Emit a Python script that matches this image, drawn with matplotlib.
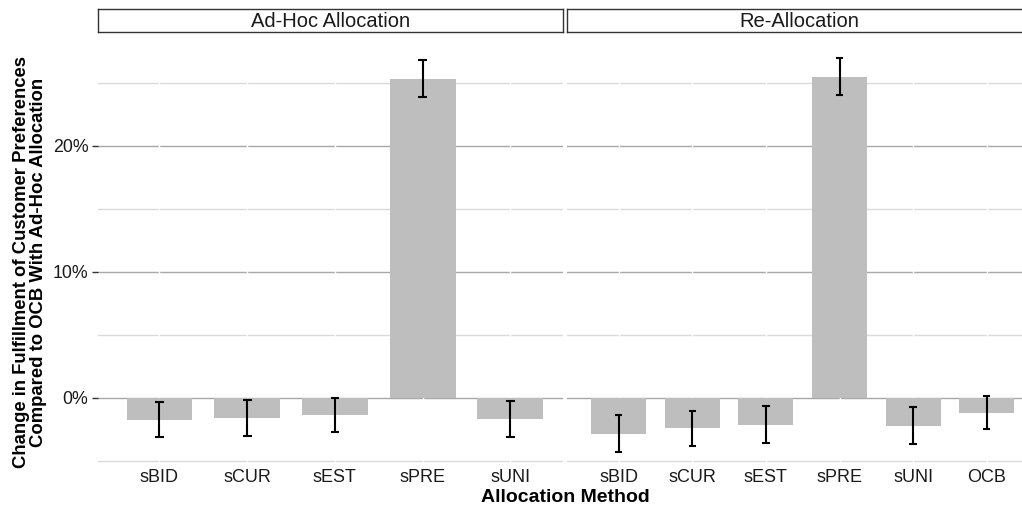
import matplotlib
matplotlib.use("Agg")
import matplotlib.pyplot as plt
from matplotlib.ticker import FuncFormatter, FixedLocator
import numpy as np

plt.rcParams['font.family'] = ['Liberation Sans', 'DejaVu Sans']

# ---- data (percent) ----
panel_titles = ["Ad-Hoc Allocation", "Re-Allocation"]
adhoc_methods = ["sBID", "sCUR", "sEST", "sPRE", "sUNI"]
adhoc_values = [-1.75, -1.64, -1.38, 25.30, -1.72]
adhoc_err = [1.38, 1.43, 1.36, 1.47, 1.43]
realloc_methods = ["sBID", "sCUR", "sEST", "sPRE", "sUNI", "OCB"]
realloc_values = [-2.87, -2.45, -2.14, 25.48, -2.24, -1.19]
realloc_err = [1.45, 1.42, 1.47, 1.49, 1.46, 1.28]
y_major = [0, 10, 20]
y_minor = [-5, 5, 15, 25]

W, H = 1022, 505
fig = plt.figure(figsize=(W / 100, H / 100), dpi=100)


def rect(x0, x1, y0, y1):
    return [x0 / W, 1 - y1 / H, (x1 - x0) / W, (y1 - y0) / H]


YLIM = (-5.91, 28.55)
BAR = "#BEBEBE"


def panel(x0, x1, methods, values, errs, title, show_y):
    ax = fig.add_axes(rect(x0, x1, 38, 472))
    n = len(methods)
    x = np.arange(n)
    ax.set_xlim(-0.7, n - 1 + 0.6)
    ax.set_ylim(*YLIM)
    for s in ax.spines.values():
        s.set_visible(False)
    for v in y_minor:
        ax.axhline(v, color="#DADADA", lw=1.0, zorder=0)
    for v in y_major:
        ax.axhline(v, color="#A8A8A8", lw=1.0, zorder=0)
    for xi in x:
        ax.axvline(xi, color="white", lw=1.0, zorder=0.5)
    ax.bar(x, values, width=0.75, color=BAR, zorder=1)
    lo = np.array(values) - np.array(errs)
    hi = np.array(values) + np.array(errs)
    ax.vlines(x, lo, hi, color="black", lw=1.5, zorder=3)
    ax.hlines(lo, x - 0.05, x + 0.05, color="black", lw=1.5, zorder=3)
    ax.hlines(hi, x - 0.05, x + 0.05, color="black", lw=1.5, zorder=3)
    ax.set_xticks(x)
    ax.set_xticklabels(methods, fontsize=13, color="#1a1a1a")
    ax.tick_params(axis="x", length=0, pad=-2)
    ax.yaxis.set_major_locator(FixedLocator(y_major))
    ax.yaxis.set_major_formatter(FuncFormatter(lambda v, p: f"{v:.0f}%"))
    if show_y:
        ax.tick_params(axis="y", length=4, width=1, color="#333333",
                       labelsize=12.8, labelcolor="#1a1a1a", pad=3)
    else:
        ax.tick_params(axis="y", length=0, labelleft=False)
    # strip
    sax = fig.add_axes(rect(x0, x1, 9, 32))
    sax.set_xticks([])
    sax.set_yticks([])
    for s in sax.spines.values():
        s.set_color("#333333")
        s.set_linewidth(1.0)
    sax.text(0.5, 0.45, title, ha="center", va="center", fontsize=14.5,
             color="#1a1a1a", transform=sax.transAxes)
    return ax


panel(98, 563, adhoc_methods, adhoc_values, adhoc_err, panel_titles[0], True)
panel(567, 1031, realloc_methods, realloc_values, realloc_err, panel_titles[1], False)

fig.text(30 / W, 1 - 262 / H,
         "Change in Fulfillment of Customer Preferences\nCompared to OCB With Ad-Hoc Allocation",
         rotation=90, ha="center", va="center", multialignment="center",
         fontsize=13.3, fontweight="bold", linespacing=1.0)
fig.text(565 / W, 1 - 497 / H, "Allocation Method", ha="center", va="center",
         fontsize=14, fontweight="bold")

fig.savefig("out.png", dpi=100)
